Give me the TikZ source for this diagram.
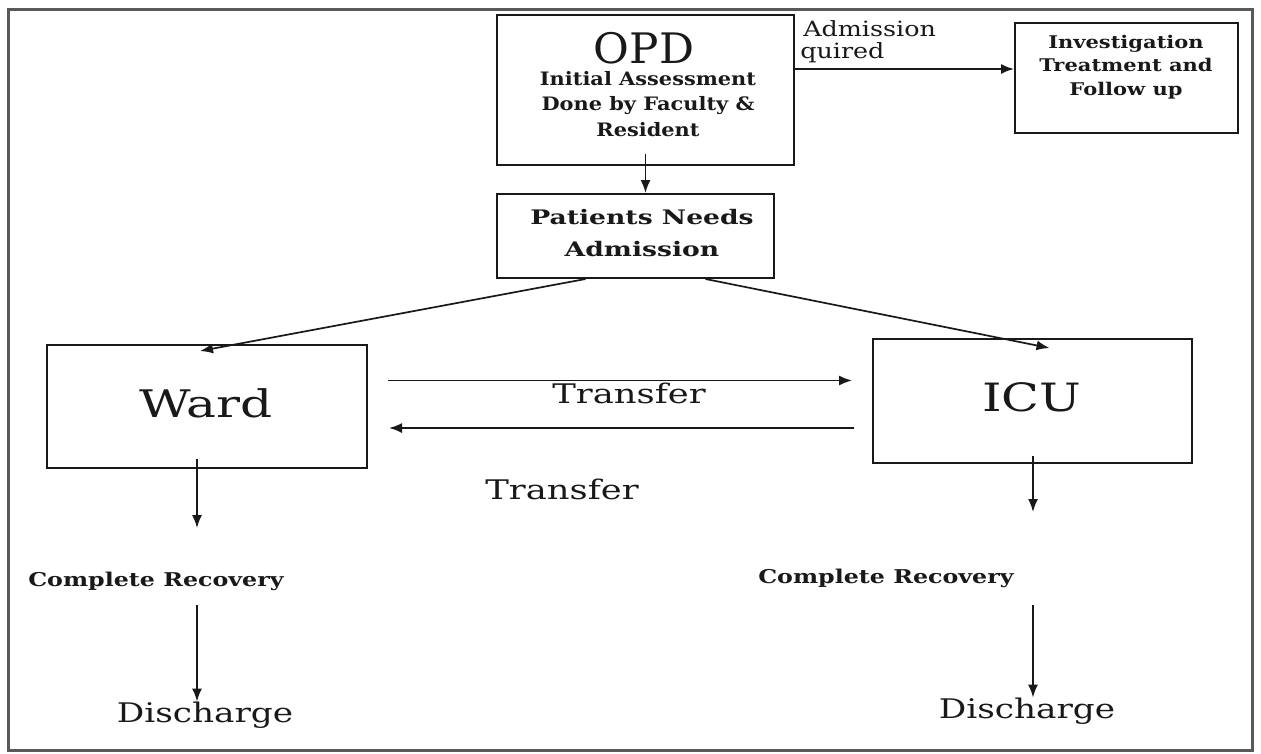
\documentclass[tikz,border=0pt]{standalone}
\usepackage{fontspec}
\setmainfont{DejaVu Serif}
\usetikzlibrary{arrows.meta}
\newcommand\fsz[1]{\fontsize{#1}{#1}\selectfont}
\begin{document}
\begin{tikzpicture}[x=1pt,y=-1pt,
  box/.style={draw=black!90, line width=2pt, inner sep=0pt},
  arr/.style={draw=black!90, line width=1.7pt, -{Latex[length=13pt,width=10pt]}},
  lbl/.style={inner sep=0pt, text=black!90, align=center, transform shape}]
\useasboundingbox (0,0) rectangle (1261,753);
% outer frame
\draw[black!65, line width=3pt] (8,750) -- (8,9) -- (1252,9) -- (1252,750) -- cycle;
% boxes
\node[box, minimum width=297pt, minimum height=150pt] (opd) at (645.5,90) {};
\node[box, minimum width=223pt, minimum height=110pt] (inv) at (1126.5,78) {};
\node[box, minimum width=277pt, minimum height=84pt] (pna) at (635.5,236) {};
\node[box, minimum width=320pt, minimum height=123pt] (ward) at (207,406.5) {};
\node[box, minimum width=319pt, minimum height=124pt] (icu) at (1032.5,401) {};
% texts
\node[lbl, xscale=1.04, font=\fsz{42}, text height=30pt, text depth=0pt, anchor=south] (opdt) at (644,64) {OPD};
\node[lbl, xscale=1.13, font=\bfseries\fontsize{18.5}{25.5}\selectfont] (opdd) at (648,104) {Initial Assessment\\Done by Faculty \&\\Resident};
\node[lbl, xscale=1.21, font=\fsz{21}, anchor=west] (adm1) at (803,29) {Admission};
\node[lbl, xscale=1.21, font=\fsz{21}, anchor=west] (adm2) at (800,53) {quired};
\node[lbl, xscale=1.2, font=\bfseries\fontsize{17.5}{23.5}\selectfont] (invt) at (1126,67) {Investigation\\Treatment and\\Follow up};
\node[lbl, xscale=1.33, font=\bfseries\fontsize{20}{32}\selectfont] (pnat) at (642,233) {Patients Needs\\Admission};
\node[lbl, xscale=1.32, font=\fsz{38}] (wardt) at (206,403) {Ward};
\node[lbl, xscale=1.27, font=\fsz{39}] (icut) at (1032,397) {ICU};
\node[lbl, xscale=1.31, font=\fsz{27}] (tr1) at (629,393) {Transfer};
\node[lbl, xscale=1.31, font=\fsz{27}] (tr2) at (562,489) {Transfer};
\node[lbl, xscale=1.25, font=\bfseries\fsz{19}] (crA) at (156,581) {Complete Recovery};
\node[lbl, xscale=1.25, font=\bfseries\fsz{19}] (crB) at (886,578) {Complete Recovery};
\node[lbl, xscale=1.27, font=\fsz{27}] (dA) at (205,715) {Discharge};
\node[lbl, xscale=1.27, font=\fsz{27}] (dB) at (1027,711) {Discharge};
% free-end coordinates
\coordinate (wA) at (197,528);
\coordinate (wB) at (1033,512);
\coordinate (cA) at (197,605);
\coordinate (cB) at (1033,605);
% connectors
\draw[arr] ([yshift=21pt]opd.east) -- ([yshift=21pt]opd.east -| inv.west);
\draw[arr] ([yshift=12pt]opd.south) -- (opd.south |- pna.north);
\draw[arr] ([xshift=-50pt]pna.south) -- ([xshift=-7pt,yshift=-7pt]ward.north);
\draw[arr] ([xshift=70pt]pna.south) -- ([xshift=17pt,yshift=-10pt]icu.north);
\draw[arr] ([xshift=20pt,yshift=26pt]ward.east) -- ([xshift=-20pt,yshift=26pt]ward.east -| icu.west);
\draw[arr] ([xshift=-18pt,yshift=-27pt]icu.west) -- ([xshift=21pt,yshift=-27pt]icu.west -| ward.east);
\draw[arr] ([xshift=-10pt,yshift=10pt]ward.south) -- (wA);
\draw[arr] ([yshift=8pt]icu.south -| wB) -- (wB);
\draw[arr] (cA) -- (dA.north -| cA);
\draw[arr] (cB) -- (dB.north -| cB);
\end{tikzpicture}
\end{document}
